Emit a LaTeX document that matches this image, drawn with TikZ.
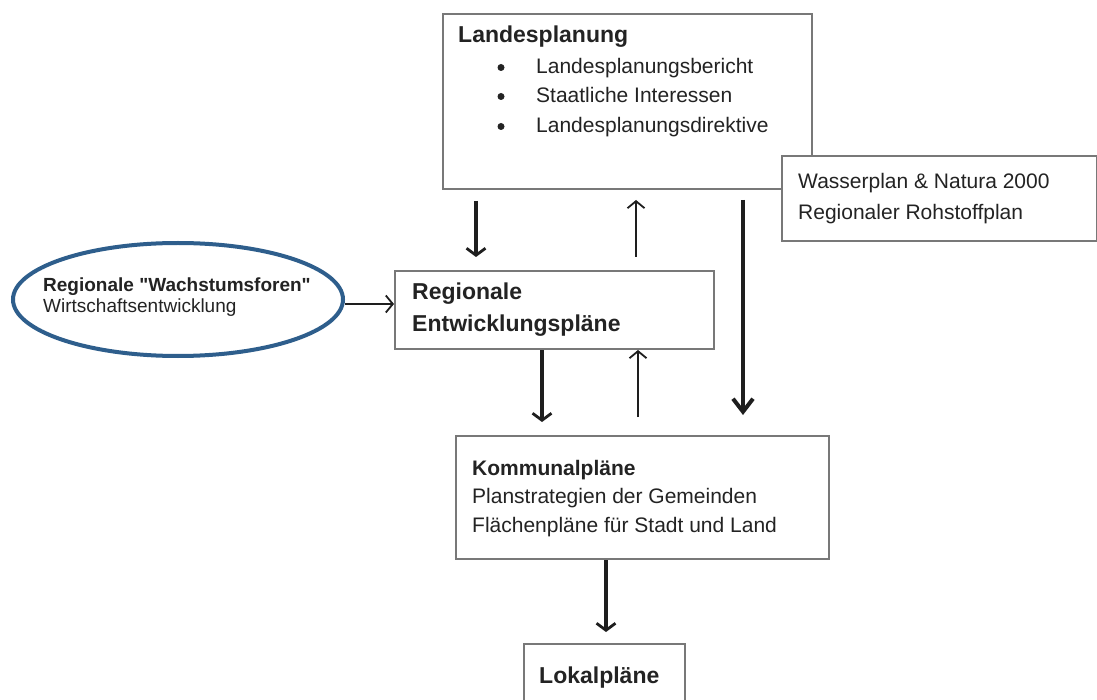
\documentclass[tikz,border=0pt]{standalone}
\usepackage{fontspec}
\setmainfont{Liberation Sans}[Ligatures=TeXOff]
\usetikzlibrary{arrows.meta,shapes.geometric}
\definecolor{boxline}{RGB}{120,120,120}
\definecolor{txt}{RGB}{35,35,35}
\definecolor{ellblue}{RGB}{46,94,140}
\definecolor{arr}{RGB}{30,30,30}
\tikzset{
  box/.style={draw=boxline, line width=2pt, fill=white, anchor=north west, inner sep=0pt, rectangle},
  bul/.style={circle, fill=txt, minimum size=7pt, inner sep=0pt},
  lbl/.style={anchor=base west, inner sep=0pt, text=txt, font=\fontsize{21}{25}\selectfont},
  blbl/.style={anchor=base west, inner sep=0pt, text=txt, font=\fontsize{23}{27}\selectfont\bfseries},
  slbl/.style={anchor=base west, inner sep=0pt, text=txt, font=\fontsize{19}{23}\selectfont},
  sblbl/.style={anchor=base west, inner sep=0pt, text=txt, font=\fontsize{19}{23}\selectfont\bfseries},
  thinarr/.style={draw=arr, line width=1.8pt, -{Straight Barb[length=7pt,width=17pt,line width=1.8pt]}},
  thickarr/.style={draw=arr, line width=3.5pt, -{Straight Barb[length=7pt,width=19pt,line width=2.8pt]}},
  bigarr/.style={draw=arr, line width=4.5pt, -{Straight Barb[length=13pt,width=20pt,line width=4pt]}},
}
\begin{document}
\begin{tikzpicture}[x=1pt,y=-1pt]
\useasboundingbox (0,0) rectangle (1097,700);
\clip (0,0) rectangle (1097,700);
\fill[white] (0,0) rectangle (1097,700);

% boxes
\node[box, minimum width=369pt, minimum height=175pt] (landes) at (442,13) {};
\node[box, minimum width=315pt, minimum height=85pt] (wasser) at (781,155) {};
\node[box, minimum width=319pt, minimum height=78pt] (regional) at (394,270) {};
\node[box, minimum width=373pt, minimum height=123pt] (kommunal) at (455,435) {};
\node[box, minimum width=161pt, minimum height=80pt] (lokal) at (523,643) {};
\node[draw=ellblue, line width=4pt, ellipse, minimum width=330pt, minimum height=113pt, inner sep=0pt] (forum) at (178,299.5) {};

% texts
\node[blbl] (t1) at (458,43) {Landesplanung};
\node[bul] (b1) at (501,67.5) {};
\node[bul] (b2) at (501,96.5) {};
\node[bul] (b3) at (501,126.5) {};
\node[lbl] (t2) at (536,74) {Landesplanungsbericht};
\node[lbl] (t3) at (536,103) {Staatliche Interessen};
\node[lbl] (t4) at (536,133) {Landesplanungsdirektive};

\node[lbl] (w1) at (798,189) {Wasserplan \& Natura 2000};
\node[lbl] (w2) at (798,220) {Regionaler Rohstoffplan};

\node[sblbl] (e1) at (43,292) {Regionale "Wachstumsforen"};
\node[slbl] (e2) at (43,313) {Wirtschaftsentwicklung};

\node[blbl] (r1) at (412,300) {Regionale};
\node[blbl] (r2) at (412,332) {Entwicklungspläne};

\node[lbl, font=\fontsize{21}{25}\selectfont\bfseries] (k1) at (472,475) {Kommunalpläne};
\node[lbl] (k2) at (472,503) {Planstrategien der Gemeinden};
\node[lbl] (k3) at (472,532) {Flächenpläne für Stadt und Land};

\node[blbl] (l1) at (539,683) {Lokalpläne};

% connector end points
\coordinate (a1s) at (476,201);
\coordinate (a1e) at (476,257);
\coordinate (a2s) at (636,257);
\coordinate (a2e) at (636,200);
\coordinate (a3s) at (743,200);
\coordinate (a3e) at (743,415);
\coordinate (a4e) at (542,422);
\coordinate (a5s) at (638,417);
\coordinate (a7e) at (606,632);

% connectors
\draw[thickarr] (a1s) -- (a1e);
\draw[thinarr] (a2s) -- (a2e);
\draw[bigarr] (a3s) -- (a3e);
\draw[thickarr] (regional.south -| a4e) -- (a4e);
\draw[thinarr] (a5s) -- (regional.south -| a5s);
\draw[thinarr] (forum.east |- 0,304) -- (regional.west |- 0,304);
\draw[thickarr] (kommunal.south -| a7e) -- (a7e);
\end{tikzpicture}
\end{document}
